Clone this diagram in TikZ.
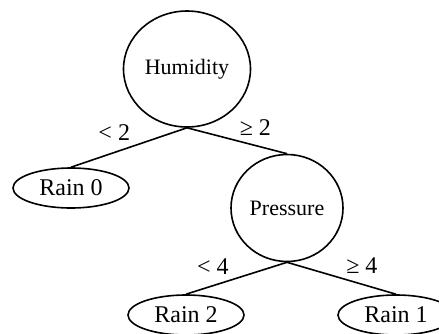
\documentclass[tikz,border=0pt]{standalone}
\usepackage{fontspec}
\setmainfont{Liberation Serif}
\usetikzlibrary{positioning, shapes.geometric}

\begin{document}
\begin{tikzpicture}[
    test/.style={draw, ellipse, inner sep=0pt, line width=0.8pt, font=\fontsize{11}{13}\selectfont},
    leaf/.style={draw, ellipse, minimum width=58pt, minimum height=20pt, inner sep=0pt, line width=0.8pt, font=\fontsize{12}{14}\selectfont},
    link/.style={line width=0.8pt},
    cond/.style={font=\fontsize{12}{14}\selectfont, inner sep=2pt}
]
    \clip (0,0) rectangle (219.5pt,-166.5pt);
    \node[test, minimum width=63.5pt, minimum height=58pt] (hum) at (93.5pt,-34.5pt) {Humidity};
    \node[test, minimum width=56pt, minimum height=53.5pt, on grid, below right=69.5pt and 50pt of hum] (pres) {Pressure};
    \node[leaf, on grid, below left=59.5pt and 58pt of hum] (rain0) {Rain 0};
    \node[leaf, on grid, below left=53.5pt and 50.5pt of pres] (rain2) {Rain 2};
    \node[leaf, on grid, below right=53.5pt and 54.5pt of pres] (rain1) {Rain 1};

    \draw[link] (hum.south) -- node[cond, above left, pos=0.45] {< 2} (rain0.north);
    \draw[link] (hum.south) -- node[cond, above right, pos=0.48] {≥ 2} (pres.north);
    \draw[link] (pres.south) -- node[cond, above left, pos=0.53] {< 4} (rain2.north);
    \draw[link] (pres.south) -- node[cond, above right, pos=0.5] {≥ 4} (rain1.north);
\end{tikzpicture}
\end{document}
